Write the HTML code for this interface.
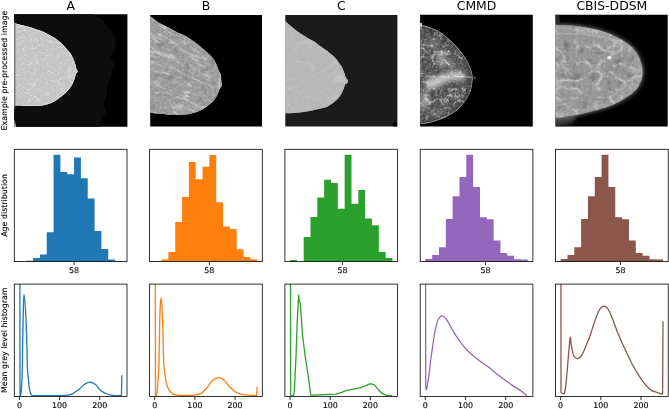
<!DOCTYPE html><html><head><meta charset="utf-8"><style>html,body{margin:0;padding:0;background:#fff;overflow:hidden}svg{display:block}text{font-family:'DejaVu Sans','Liberation Sans',sans-serif;fill:#000}.s{stroke:#000;stroke-width:0.12px}</style></head><body>
<svg width="669" height="409" viewBox="0 0 669 409">
<rect width="669" height="409" fill="#fff"/>
<defs>
<clipPath id="c00"><rect x="14.30" y="14.40" width="112.7" height="112.3"/></clipPath>
<clipPath id="c01"><rect x="14.30" y="149.30" width="112.7" height="112.3"/></clipPath>
<clipPath id="c02"><rect x="14.30" y="284.10" width="112.7" height="112.3"/></clipPath>
<clipPath id="c10"><rect x="149.60" y="14.40" width="112.7" height="112.3"/></clipPath>
<clipPath id="c11"><rect x="149.60" y="149.30" width="112.7" height="112.3"/></clipPath>
<clipPath id="c12"><rect x="149.60" y="284.10" width="112.7" height="112.3"/></clipPath>
<clipPath id="c20"><rect x="284.90" y="14.40" width="112.7" height="112.3"/></clipPath>
<clipPath id="c21"><rect x="284.90" y="149.30" width="112.7" height="112.3"/></clipPath>
<clipPath id="c22"><rect x="284.90" y="284.10" width="112.7" height="112.3"/></clipPath>
<clipPath id="c30"><rect x="420.20" y="14.40" width="112.7" height="112.3"/></clipPath>
<clipPath id="c31"><rect x="420.20" y="149.30" width="112.7" height="112.3"/></clipPath>
<clipPath id="c32"><rect x="420.20" y="284.10" width="112.7" height="112.3"/></clipPath>
<clipPath id="c40"><rect x="555.50" y="14.40" width="112.7" height="112.3"/></clipPath>
<clipPath id="c41"><rect x="555.50" y="149.30" width="112.7" height="112.3"/></clipPath>
<clipPath id="c42"><rect x="555.50" y="284.10" width="112.7" height="112.3"/></clipPath>
<filter id="tex" x="0" y="0" width="100%" height="100%"><feTurbulence type="fractalNoise" baseFrequency="0.25" numOctaves="2" seed="3" result="n"/><feColorMatrix in="n" type="matrix" values="0 0 0 0 1  0 0 0 0 1  0 0 0 0 1  0.9 0 0 0 -0.45" result="w"/><feComposite in="w" in2="SourceGraphic" operator="in" result="wi"/><feMerge><feMergeNode in="SourceGraphic"/><feMergeNode in="wi"/></feMerge></filter>
<filter id="grainA" x="0" y="0" width="100%" height="100%"><feTurbulence type="fractalNoise" baseFrequency="0.5" numOctaves="2" seed="2" result="n"/><feColorMatrix in="n" type="matrix" values="0 0 0 0 1  0 0 0 0 1  0 0 0 0 1  0.35 0 0 0 -0.175" result="w"/><feColorMatrix in="n" type="matrix" values="0 0 0 0 0  0 0 0 0 0  0 0 0 0 0  -0.35 0 0 0 0.175" result="b"/><feMerge><feMergeNode in="SourceGraphic"/><feMergeNode in="w"/><feMergeNode in="b"/></feMerge></filter>
<filter id="grainB" x="0" y="0" width="100%" height="100%"><feTurbulence type="fractalNoise" baseFrequency="0.4" numOctaves="2" seed="5" result="n"/><feColorMatrix in="n" type="matrix" values="0 0 0 0 1  0 0 0 0 1  0 0 0 0 1  0.45 0 0 0 -0.225" result="w"/><feColorMatrix in="n" type="matrix" values="0 0 0 0 0  0 0 0 0 0  0 0 0 0 0  -0.45 0 0 0 0.225" result="b"/><feMerge><feMergeNode in="SourceGraphic"/><feMergeNode in="w"/><feMergeNode in="b"/></feMerge></filter>
<filter id="grainC" x="0" y="0" width="100%" height="100%"><feTurbulence type="fractalNoise" baseFrequency="0.3" numOctaves="2" seed="7" result="n"/><feColorMatrix in="n" type="matrix" values="0 0 0 0 1  0 0 0 0 1  0 0 0 0 1  0.15 0 0 0 -0.075" result="w"/><feColorMatrix in="n" type="matrix" values="0 0 0 0 0  0 0 0 0 0  0 0 0 0 0  -0.15 0 0 0 0.075" result="b"/><feMerge><feMergeNode in="SourceGraphic"/><feMergeNode in="w"/><feMergeNode in="b"/></feMerge></filter>
<filter id="grainM" x="0" y="0" width="100%" height="100%"><feTurbulence type="fractalNoise" baseFrequency="0.45" numOctaves="2" seed="11" result="n"/><feColorMatrix in="n" type="matrix" values="0 0 0 0 1  0 0 0 0 1  0 0 0 0 1  0.5 0 0 0 -0.250" result="w"/><feColorMatrix in="n" type="matrix" values="0 0 0 0 0  0 0 0 0 0  0 0 0 0 0  -0.5 0 0 0 0.250" result="b"/><feMerge><feMergeNode in="SourceGraphic"/><feMergeNode in="w"/><feMergeNode in="b"/></feMerge></filter>
<filter id="grainD" x="0" y="0" width="100%" height="100%"><feTurbulence type="fractalNoise" baseFrequency="0.35" numOctaves="2" seed="13" result="n"/><feColorMatrix in="n" type="matrix" values="0 0 0 0 1  0 0 0 0 1  0 0 0 0 1  0.6 0 0 0 -0.300" result="w"/><feColorMatrix in="n" type="matrix" values="0 0 0 0 0  0 0 0 0 0  0 0 0 0 0  -0.6 0 0 0 0.300" result="b"/><feMerge><feMergeNode in="SourceGraphic"/><feMergeNode in="w"/><feMergeNode in="b"/></feMerge></filter>
<filter id="veinA" x="0" y="0" width="100%" height="100%"><feTurbulence type="turbulence" baseFrequency="0.09 0.12" numOctaves="2" seed="21"/><feColorMatrix type="matrix" values="0 0 0 0 1  0 0 0 0 1  0 0 0 0 1  -8 0 0 0 1.0"/><feGaussianBlur stdDeviation="0.35"/></filter>
<filter id="veinB" x="0" y="0" width="100%" height="100%"><feTurbulence type="turbulence" baseFrequency="0.05 0.07" numOctaves="4" seed="3"/><feColorMatrix type="matrix" values="0 0 0 0 1  0 0 0 0 1  0 0 0 0 1  -4.5 0 0 0 1.0"/><feGaussianBlur stdDeviation="0.35"/></filter>
<filter id="veinB2" x="0" y="0" width="100%" height="100%"><feTurbulence type="turbulence" baseFrequency="0.02 0.13" numOctaves="3" seed="41"/><feColorMatrix type="matrix" values="0 0 0 0 1  0 0 0 0 1  0 0 0 0 1  -5 0 0 0 1.0"/><feGaussianBlur stdDeviation="0.35"/></filter>
<filter id="veinC" x="0" y="0" width="100%" height="100%"><feTurbulence type="turbulence" baseFrequency="0.04 0.06" numOctaves="2" seed="9"/><feColorMatrix type="matrix" values="0 0 0 0 1  0 0 0 0 1  0 0 0 0 1  -7 0 0 0 1.0"/><feGaussianBlur stdDeviation="0.35"/></filter>
<filter id="veinM" x="0" y="0" width="100%" height="100%"><feTurbulence type="turbulence" baseFrequency="0.07 0.08" numOctaves="4" seed="17"/><feColorMatrix type="matrix" values="0 0 0 0 1  0 0 0 0 1  0 0 0 0 1  -4.5 0 0 0 1.0"/><feGaussianBlur stdDeviation="0.35"/></filter>
<filter id="veinD" x="0" y="0" width="100%" height="100%"><feTurbulence type="turbulence" baseFrequency="0.045 0.06" numOctaves="4" seed="31"/><feColorMatrix type="matrix" values="0 0 0 0 1  0 0 0 0 1  0 0 0 0 1  -4 0 0 0 1.0"/><feGaussianBlur stdDeviation="0.35"/></filter>
<filter id="blur2" x="-20%" y="-20%" width="140%" height="140%"><feGaussianBlur stdDeviation="2"/></filter>
<filter id="dk" x="0" y="0" width="100%" height="100%"><feTurbulence type="fractalNoise" baseFrequency="0.12" numOctaves="2" seed="8"/><feColorMatrix type="matrix" values="0 0 0 0 0  0 0 0 0 0  0 0 0 0 0  -2.2 0 0 0 1.0"/></filter>
<filter id="dk2" x="0" y="0" width="100%" height="100%"><feTurbulence type="fractalNoise" baseFrequency="0.2" numOctaves="2" seed="12"/><feColorMatrix type="matrix" values="0 0 0 0 0  0 0 0 0 0  0 0 0 0 0  -2.6 0 0 0 1.2"/></filter>
<filter id="soft" x="-5%" y="-5%" width="110%" height="110%"><feGaussianBlur stdDeviation="0.45"/></filter>
<filter id="edgeD" x="-10%" y="-10%" width="120%" height="120%"><feGaussianBlur stdDeviation="2.7"/></filter>
<filter id="rough" x="-5%" y="-5%" width="110%" height="110%"><feTurbulence type="fractalNoise" baseFrequency="0.15" numOctaves="2" seed="4" result="t"/><feDisplacementMap in="SourceGraphic" in2="t" scale="5" xChannelSelector="R" yChannelSelector="G"/></filter>
<filter id="blur1"><feGaussianBlur stdDeviation="0.8"/></filter>
<filter id="blur2"><feGaussianBlur stdDeviation="1.5"/></filter>
</defs>
<text x="70.65" y="10.1" font-size="12.4" text-anchor="middle">A</text>
<text x="205.95" y="10.1" font-size="12.4" text-anchor="middle">B</text>
<text x="341.25" y="10.1" font-size="12.4" text-anchor="middle">C</text>
<text x="476.55" y="10.1" font-size="12.4" text-anchor="middle">CMMD</text>
<text x="611.85" y="10.1" font-size="12.4" text-anchor="middle">CBIS-DDSM</text>
<text transform="translate(6.8,70.55) rotate(-90)" x="0" y="0" font-size="7.9" text-anchor="middle" class="s">Example pre-processed image</text>
<text transform="translate(6.8,205.45) rotate(-90)" x="0" y="0" font-size="7.9" text-anchor="middle" class="s">Age distribution</text>
<text transform="translate(6.8,340.25) rotate(-90)" x="0" y="0" font-size="7.9" text-anchor="middle" class="s">Mean grey level histogram</text>
<clipPath id="ic0"><rect x="14.2" y="14.3" width="113.20" height="112.50"/></clipPath>
<g clip-path="url(#ic0)"><g transform="translate(14.30,14.40)">
<rect x="-1" y="-1" width="115" height="115" fill="#000"/>
<path d="M79.60,-3.00 C79.60,-2.52 79.27,-0.87 79.60,-0.10 C79.93,0.67 80.45,0.83 81.60,1.60 C82.75,2.37 84.88,3.20 86.50,4.50 C88.12,5.80 89.83,7.77 91.30,9.40 C92.77,11.03 94.07,12.67 95.30,14.30 C96.53,15.93 97.82,17.58 98.70,19.20 C99.58,20.82 100.12,22.70 100.60,24.00 C101.08,25.30 101.60,26.02 101.60,27.00 C101.60,27.98 100.65,28.77 100.60,29.90 C100.55,31.03 101.47,32.45 101.30,33.80 C101.13,35.15 100.37,36.55 99.60,38.00 C98.83,39.45 96.85,40.93 96.70,42.50 C96.55,44.07 98.05,45.93 98.70,47.40 C99.35,48.87 100.85,50.17 100.60,51.30 C100.35,52.43 97.68,53.22 97.20,54.20 C96.72,55.18 97.87,56.05 97.70,57.20 C97.53,58.35 96.60,59.80 96.20,61.10 C95.80,62.40 95.70,63.70 95.30,65.00 C94.90,66.30 94.22,67.60 93.80,68.90 C93.38,70.20 93.03,71.68 92.80,72.80 C92.57,73.92 92.38,74.37 92.40,75.60 C92.42,76.83 93.20,78.65 92.90,80.20 C92.60,81.75 91.15,83.35 90.60,84.90 C90.05,86.45 89.60,87.95 89.60,89.50 C89.60,91.05 90.22,92.73 90.60,94.20 C90.98,95.67 92.22,97.07 91.90,98.30 C91.58,99.53 89.47,100.43 88.70,101.60 C87.93,102.77 87.77,104.07 87.30,105.30 C86.83,106.53 86.28,107.82 85.90,109.00 C85.52,110.18 85.23,111.23 85.00,112.40 C84.77,113.57 84.58,115.40 84.50,116.00 L-3,116 L-3,-3 Z" fill="#111" filter="url(#soft)"/>
<clipPath id="bcA"><path d="M-3.00,8.80 C-2.38,8.80 -0.43,8.62 0.70,8.80 C1.83,8.98 2.27,9.47 3.80,9.90 C5.33,10.33 7.87,10.90 9.90,11.40 C11.93,11.90 13.95,12.28 16.00,12.90 C18.05,13.52 20.15,14.38 22.20,15.10 C24.25,15.82 26.23,16.33 28.30,17.20 C30.37,18.07 32.52,19.20 34.60,20.30 C36.68,21.40 38.90,22.53 40.80,23.80 C42.70,25.07 44.28,26.35 46.00,27.90 C47.72,29.45 49.40,31.22 51.10,33.10 C52.80,34.98 54.83,37.15 56.20,39.20 C57.57,41.25 58.43,43.35 59.30,45.40 C60.17,47.45 60.92,49.93 61.40,51.50 C61.88,53.07 61.85,53.85 62.20,54.80 C62.55,55.75 63.60,56.40 63.50,57.20 C63.40,58.00 62.12,58.48 61.60,59.60 C61.08,60.72 60.93,62.33 60.40,63.90 C59.87,65.47 59.25,67.30 58.40,69.00 C57.55,70.70 56.58,72.40 55.30,74.10 C54.02,75.80 52.58,77.48 50.70,79.20 C48.82,80.92 46.03,82.95 44.00,84.40 C41.97,85.85 40.42,86.95 38.50,87.90 C36.58,88.85 34.58,89.53 32.50,90.10 C30.42,90.67 28.42,91.03 26.00,91.30 C23.58,91.57 20.68,91.65 18.00,91.70 C15.32,91.75 12.78,91.68 9.90,91.60 C7.02,91.52 2.85,91.27 0.70,91.20 C-1.45,91.13 -2.38,91.20 -3.00,91.20 L-3,91.20 L-3,8.80 Z"/></clipPath>
<path d="M-3.00,8.80 C-2.38,8.80 -0.43,8.62 0.70,8.80 C1.83,8.98 2.27,9.47 3.80,9.90 C5.33,10.33 7.87,10.90 9.90,11.40 C11.93,11.90 13.95,12.28 16.00,12.90 C18.05,13.52 20.15,14.38 22.20,15.10 C24.25,15.82 26.23,16.33 28.30,17.20 C30.37,18.07 32.52,19.20 34.60,20.30 C36.68,21.40 38.90,22.53 40.80,23.80 C42.70,25.07 44.28,26.35 46.00,27.90 C47.72,29.45 49.40,31.22 51.10,33.10 C52.80,34.98 54.83,37.15 56.20,39.20 C57.57,41.25 58.43,43.35 59.30,45.40 C60.17,47.45 60.92,49.93 61.40,51.50 C61.88,53.07 61.85,53.85 62.20,54.80 C62.55,55.75 63.60,56.40 63.50,57.20 C63.40,58.00 62.12,58.48 61.60,59.60 C61.08,60.72 60.93,62.33 60.40,63.90 C59.87,65.47 59.25,67.30 58.40,69.00 C57.55,70.70 56.58,72.40 55.30,74.10 C54.02,75.80 52.58,77.48 50.70,79.20 C48.82,80.92 46.03,82.95 44.00,84.40 C41.97,85.85 40.42,86.95 38.50,87.90 C36.58,88.85 34.58,89.53 32.50,90.10 C30.42,90.67 28.42,91.03 26.00,91.30 C23.58,91.57 20.68,91.65 18.00,91.70 C15.32,91.75 12.78,91.68 9.90,91.60 C7.02,91.52 2.85,91.27 0.70,91.20 C-1.45,91.13 -2.38,91.20 -3.00,91.20 L-3,91.20 L-3,8.80 Z" fill="#c6c6c6"/>
<g clip-path="url(#bcA)"><rect x="0" y="0" width="113" height="113" fill="#c6c6c6" filter="url(#grainA)"/><path d="M-3.00,8.80 C-2.38,8.80 -0.43,8.62 0.70,8.80 C1.83,8.98 2.27,9.47 3.80,9.90 C5.33,10.33 7.87,10.90 9.90,11.40 C11.93,11.90 13.95,12.28 16.00,12.90 C18.05,13.52 20.15,14.38 22.20,15.10 C24.25,15.82 26.23,16.33 28.30,17.20 C30.37,18.07 32.52,19.20 34.60,20.30 C36.68,21.40 38.90,22.53 40.80,23.80 C42.70,25.07 44.28,26.35 46.00,27.90 C47.72,29.45 49.40,31.22 51.10,33.10 C52.80,34.98 54.83,37.15 56.20,39.20 C57.57,41.25 58.43,43.35 59.30,45.40 C60.17,47.45 60.92,49.93 61.40,51.50 C61.88,53.07 61.85,53.85 62.20,54.80 C62.55,55.75 63.60,56.40 63.50,57.20 C63.40,58.00 62.12,58.48 61.60,59.60 C61.08,60.72 60.93,62.33 60.40,63.90 C59.87,65.47 59.25,67.30 58.40,69.00 C57.55,70.70 56.58,72.40 55.30,74.10 C54.02,75.80 52.58,77.48 50.70,79.20 C48.82,80.92 46.03,82.95 44.00,84.40 C41.97,85.85 40.42,86.95 38.50,87.90 C36.58,88.85 34.58,89.53 32.50,90.10 C30.42,90.67 28.42,91.03 26.00,91.30 C23.58,91.57 20.68,91.65 18.00,91.70 C15.32,91.75 12.78,91.68 9.90,91.60 C7.02,91.52 2.85,91.27 0.70,91.20 C-1.45,91.13 -2.38,91.20 -3.00,91.20 L-3,91.20 L-3,8.80 Z" fill="none" stroke="#e2e2e2" stroke-width="1.6" stroke-opacity="0.7"/><ellipse cx="57" cy="58" rx="4" ry="6" fill="#fff" fill-opacity="0.12" filter="url(#blur2)"/><rect x="0" y="0" width="113" height="113" filter="url(#veinA)" opacity="0.35"/><ellipse cx="57.6" cy="90.8" rx="0.5" ry="0.4" fill="#fff" fill-opacity="0.45"/><ellipse cx="45.5" cy="68.6" rx="0.7" ry="0.6" fill="#fff" fill-opacity="0.38"/><ellipse cx="37.0" cy="27.7" rx="0.8" ry="0.5" fill="#fff" fill-opacity="0.42"/><ellipse cx="59.7" cy="91.0" rx="0.9" ry="0.6" fill="#fff" fill-opacity="0.28"/><ellipse cx="7.0" cy="17.2" rx="0.8" ry="0.5" fill="#fff" fill-opacity="0.31"/><ellipse cx="54.0" cy="57.1" rx="0.9" ry="0.5" fill="#fff" fill-opacity="0.21"/><ellipse cx="22.9" cy="25.9" rx="0.9" ry="0.8" fill="#fff" fill-opacity="0.40"/><ellipse cx="15.0" cy="86.5" rx="1.1" ry="0.7" fill="#fff" fill-opacity="0.47"/><ellipse cx="47.0" cy="78.2" rx="0.7" ry="0.8" fill="#fff" fill-opacity="0.49"/><ellipse cx="13.9" cy="75.3" rx="1.0" ry="0.6" fill="#fff" fill-opacity="0.36"/><ellipse cx="32.0" cy="89.0" rx="0.9" ry="0.8" fill="#fff" fill-opacity="0.31"/><ellipse cx="53.6" cy="87.0" rx="0.8" ry="0.6" fill="#fff" fill-opacity="0.48"/><ellipse cx="44.8" cy="53.9" rx="0.7" ry="0.5" fill="#fff" fill-opacity="0.41"/><ellipse cx="14.1" cy="87.6" rx="0.7" ry="0.8" fill="#fff" fill-opacity="0.29"/><ellipse cx="57.7" cy="71.5" rx="0.9" ry="0.6" fill="#fff" fill-opacity="0.40"/><ellipse cx="37.3" cy="39.9" rx="0.6" ry="0.6" fill="#fff" fill-opacity="0.48"/><ellipse cx="39.3" cy="21.0" rx="1.1" ry="0.7" fill="#fff" fill-opacity="0.47"/><ellipse cx="15.5" cy="74.6" rx="0.5" ry="0.7" fill="#fff" fill-opacity="0.28"/><ellipse cx="17.5" cy="85.0" rx="0.6" ry="0.6" fill="#fff" fill-opacity="0.46"/><ellipse cx="18.5" cy="31.8" rx="1.1" ry="0.6" fill="#fff" fill-opacity="0.42"/><ellipse cx="6.8" cy="44.0" rx="0.6" ry="0.7" fill="#fff" fill-opacity="0.22"/><ellipse cx="57.5" cy="17.0" rx="1.0" ry="0.4" fill="#fff" fill-opacity="0.28"/><ellipse cx="49.7" cy="27.6" rx="0.6" ry="0.7" fill="#fff" fill-opacity="0.32"/><ellipse cx="7.4" cy="94.2" rx="0.6" ry="0.4" fill="#fff" fill-opacity="0.30"/><ellipse cx="38.8" cy="74.4" rx="0.6" ry="0.5" fill="#fff" fill-opacity="0.21"/></g>
<path d="M0,104 L1.8,112.5 L0,112.5 Z" fill="#ddd"/><rect x="-0.1" y="8" width="1.1" height="86" fill="#555"/>
</g></g>
<clipPath id="ic1"><rect x="150.2" y="14.9" width="111.80" height="111.70"/></clipPath>
<g clip-path="url(#ic1)"><g transform="translate(149.60,14.40)">
<rect x="-1" y="-1" width="115" height="115" fill="#000"/>
<clipPath id="bcB"><path d="M-3.00,1.80 C-2.43,1.80 -0.78,1.37 0.40,1.80 C1.58,2.23 2.88,3.48 4.10,4.40 C5.32,5.32 5.87,6.15 7.70,7.30 C9.53,8.45 12.65,10.02 15.10,11.30 C17.55,12.58 19.97,13.73 22.40,15.00 C24.83,16.27 27.65,17.92 29.70,18.90 C31.75,19.88 33.15,20.15 34.70,20.90 C36.25,21.65 37.58,22.48 39.00,23.40 C40.42,24.32 41.78,25.40 43.20,26.40 C44.62,27.40 46.07,28.30 47.50,29.40 C48.93,30.50 50.37,31.78 51.80,33.00 C53.23,34.22 54.68,35.45 56.10,36.70 C57.52,37.95 59.02,39.22 60.30,40.50 C61.58,41.78 62.77,42.95 63.80,44.40 C64.83,45.85 65.68,47.45 66.50,49.20 C67.32,50.95 67.90,53.00 68.70,54.90 C69.50,56.80 70.82,58.83 71.30,60.60 C71.78,62.37 71.47,64.10 71.60,65.50 C71.73,66.90 71.97,68.05 72.10,69.00 C72.23,69.95 72.70,70.32 72.40,71.20 C72.10,72.08 71.05,72.80 70.30,74.30 C69.55,75.80 68.78,78.42 67.90,80.20 C67.02,81.98 66.30,83.38 65.00,85.00 C63.70,86.62 62.07,88.27 60.10,89.90 C58.13,91.53 55.72,93.38 53.20,94.80 C50.68,96.22 47.65,97.53 45.00,98.40 C42.35,99.27 39.88,99.65 37.30,100.00 C34.72,100.35 32.10,100.43 29.50,100.50 C26.90,100.57 24.30,100.53 21.70,100.40 C19.10,100.27 16.48,99.93 13.90,99.70 C11.32,99.47 8.45,99.28 6.20,99.00 C3.95,98.72 1.93,98.17 0.40,98.00 C-1.13,97.83 -2.43,98.00 -3.00,98.00 L-3,98.00 L-3,1.80 Z"/></clipPath>
<path d="M-3.00,1.80 C-2.43,1.80 -0.78,1.37 0.40,1.80 C1.58,2.23 2.88,3.48 4.10,4.40 C5.32,5.32 5.87,6.15 7.70,7.30 C9.53,8.45 12.65,10.02 15.10,11.30 C17.55,12.58 19.97,13.73 22.40,15.00 C24.83,16.27 27.65,17.92 29.70,18.90 C31.75,19.88 33.15,20.15 34.70,20.90 C36.25,21.65 37.58,22.48 39.00,23.40 C40.42,24.32 41.78,25.40 43.20,26.40 C44.62,27.40 46.07,28.30 47.50,29.40 C48.93,30.50 50.37,31.78 51.80,33.00 C53.23,34.22 54.68,35.45 56.10,36.70 C57.52,37.95 59.02,39.22 60.30,40.50 C61.58,41.78 62.77,42.95 63.80,44.40 C64.83,45.85 65.68,47.45 66.50,49.20 C67.32,50.95 67.90,53.00 68.70,54.90 C69.50,56.80 70.82,58.83 71.30,60.60 C71.78,62.37 71.47,64.10 71.60,65.50 C71.73,66.90 71.97,68.05 72.10,69.00 C72.23,69.95 72.70,70.32 72.40,71.20 C72.10,72.08 71.05,72.80 70.30,74.30 C69.55,75.80 68.78,78.42 67.90,80.20 C67.02,81.98 66.30,83.38 65.00,85.00 C63.70,86.62 62.07,88.27 60.10,89.90 C58.13,91.53 55.72,93.38 53.20,94.80 C50.68,96.22 47.65,97.53 45.00,98.40 C42.35,99.27 39.88,99.65 37.30,100.00 C34.72,100.35 32.10,100.43 29.50,100.50 C26.90,100.57 24.30,100.53 21.70,100.40 C19.10,100.27 16.48,99.93 13.90,99.70 C11.32,99.47 8.45,99.28 6.20,99.00 C3.95,98.72 1.93,98.17 0.40,98.00 C-1.13,97.83 -2.43,98.00 -3.00,98.00 L-3,98.00 L-3,1.80 Z" fill="#9c9c9c"/>
<g clip-path="url(#bcB)"><rect x="0" y="0" width="113" height="113" fill="#9c9c9c" filter="url(#grainB)"/><rect x="0" y="0" width="113" height="113" filter="url(#dk)" opacity="0.2"/><rect x="0" y="0" width="113" height="113" filter="url(#veinB)" opacity="0.25"/><g transform="rotate(28 56 56)"><rect x="-40" y="-40" width="190" height="190" filter="url(#veinB2)" opacity="0.6"/></g></g>
</g></g>
<clipPath id="ic2"><rect x="285.3" y="15.0" width="112.10" height="111.60"/></clipPath>
<g clip-path="url(#ic2)"><g transform="translate(284.90,14.40)">
<rect x="-1" y="-1" width="115" height="115" fill="#1b1b1b"/>
<clipPath id="bcC"><path d="M-3.00,6.90 C-2.48,6.90 -1.27,6.18 0.10,6.90 C1.47,7.62 3.33,9.67 5.20,11.20 C7.07,12.73 9.27,14.57 11.30,16.10 C13.33,17.63 15.37,19.08 17.40,20.40 C19.43,21.72 21.38,22.78 23.50,24.00 C25.62,25.22 28.28,26.50 30.10,27.70 C31.92,28.90 32.97,30.12 34.40,31.20 C35.83,32.28 37.28,33.22 38.70,34.20 C40.12,35.18 41.48,36.03 42.90,37.10 C44.32,38.17 45.77,39.32 47.20,40.60 C48.63,41.88 50.22,43.30 51.50,44.80 C52.78,46.30 53.90,48.10 54.90,49.60 C55.90,51.10 56.72,52.23 57.50,53.80 C58.28,55.37 59.05,57.53 59.60,59.00 C60.15,60.47 60.35,61.57 60.80,62.60 C61.25,63.63 61.93,64.47 62.30,65.20 C62.67,65.93 63.02,66.40 63.00,67.00 C62.98,67.60 62.67,68.30 62.20,68.80 C61.73,69.30 60.73,69.18 60.20,70.00 C59.67,70.82 59.40,72.58 59.00,73.70 C58.60,74.82 58.28,75.68 57.80,76.70 C57.32,77.72 56.70,78.78 56.10,79.80 C55.50,80.82 54.98,81.78 54.20,82.80 C53.42,83.82 52.48,84.88 51.40,85.90 C50.32,86.92 48.97,87.98 47.70,88.90 C46.43,89.82 45.07,90.68 43.80,91.40 C42.53,92.12 42.67,92.47 40.10,93.20 C37.53,93.93 31.97,95.08 28.40,95.80 C24.83,96.52 21.95,97.05 18.70,97.50 C15.45,97.95 12.00,98.27 8.90,98.50 C5.80,98.73 2.08,98.83 0.10,98.90 C-1.88,98.97 -2.48,98.90 -3.00,98.90 L-3,98.90 L-3,6.90 Z"/></clipPath>
<path d="M-3.00,6.90 C-2.48,6.90 -1.27,6.18 0.10,6.90 C1.47,7.62 3.33,9.67 5.20,11.20 C7.07,12.73 9.27,14.57 11.30,16.10 C13.33,17.63 15.37,19.08 17.40,20.40 C19.43,21.72 21.38,22.78 23.50,24.00 C25.62,25.22 28.28,26.50 30.10,27.70 C31.92,28.90 32.97,30.12 34.40,31.20 C35.83,32.28 37.28,33.22 38.70,34.20 C40.12,35.18 41.48,36.03 42.90,37.10 C44.32,38.17 45.77,39.32 47.20,40.60 C48.63,41.88 50.22,43.30 51.50,44.80 C52.78,46.30 53.90,48.10 54.90,49.60 C55.90,51.10 56.72,52.23 57.50,53.80 C58.28,55.37 59.05,57.53 59.60,59.00 C60.15,60.47 60.35,61.57 60.80,62.60 C61.25,63.63 61.93,64.47 62.30,65.20 C62.67,65.93 63.02,66.40 63.00,67.00 C62.98,67.60 62.67,68.30 62.20,68.80 C61.73,69.30 60.73,69.18 60.20,70.00 C59.67,70.82 59.40,72.58 59.00,73.70 C58.60,74.82 58.28,75.68 57.80,76.70 C57.32,77.72 56.70,78.78 56.10,79.80 C55.50,80.82 54.98,81.78 54.20,82.80 C53.42,83.82 52.48,84.88 51.40,85.90 C50.32,86.92 48.97,87.98 47.70,88.90 C46.43,89.82 45.07,90.68 43.80,91.40 C42.53,92.12 42.67,92.47 40.10,93.20 C37.53,93.93 31.97,95.08 28.40,95.80 C24.83,96.52 21.95,97.05 18.70,97.50 C15.45,97.95 12.00,98.27 8.90,98.50 C5.80,98.73 2.08,98.83 0.10,98.90 C-1.88,98.97 -2.48,98.90 -3.00,98.90 L-3,98.90 L-3,6.90 Z" fill="#b8b8b8"/>
<g clip-path="url(#bcC)"><rect x="0" y="0" width="113" height="113" fill="#b8b8b8" filter="url(#grainC)"/><rect x="0" y="0" width="113" height="113" filter="url(#veinC)" opacity="0.15"/><ellipse cx="55" cy="64" rx="5" ry="4" fill="#d0d0d0" fill-opacity="0.5" filter="url(#soft)"/></g>
<rect x="108.2" y="108.3" width="4" height="4" fill="#000"/>
</g></g>
<clipPath id="ic3"><rect x="420.1" y="14.7" width="112.70" height="111.90"/></clipPath>
<g clip-path="url(#ic3)"><g transform="translate(420.20,14.40)">
<rect x="-1" y="-1" width="115" height="115" fill="#000"/>
<clipPath id="bcM"><path d="M-3.00,10.10 C-2.50,10.12 -2.33,9.62 0.00,10.20 C2.33,10.78 7.32,12.12 11.00,13.60 C14.68,15.08 18.38,16.55 22.10,19.10 C25.82,21.65 30.03,25.63 33.30,28.90 C36.57,32.17 39.37,35.67 41.70,38.70 C44.03,41.73 45.77,44.30 47.30,47.10 C48.83,49.90 50.07,52.95 50.90,55.50 C51.73,58.05 52.20,59.62 52.30,62.40 C52.40,65.18 52.10,69.17 51.50,72.20 C50.90,75.23 50.10,77.80 48.70,80.60 C47.30,83.40 45.43,86.20 43.10,89.00 C40.77,91.80 38.20,94.85 34.70,97.40 C31.20,99.95 26.52,102.43 22.10,104.30 C17.68,106.17 11.88,107.75 8.20,108.60 C4.52,109.45 1.87,109.27 0.00,109.40 C-1.87,109.53 -2.50,109.40 -3.00,109.40 L-3,109.40 L-3,10.10 Z"/></clipPath>
<path d="M-3.00,10.10 C-2.50,10.12 -2.33,9.62 0.00,10.20 C2.33,10.78 7.32,12.12 11.00,13.60 C14.68,15.08 18.38,16.55 22.10,19.10 C25.82,21.65 30.03,25.63 33.30,28.90 C36.57,32.17 39.37,35.67 41.70,38.70 C44.03,41.73 45.77,44.30 47.30,47.10 C48.83,49.90 50.07,52.95 50.90,55.50 C51.73,58.05 52.20,59.62 52.30,62.40 C52.40,65.18 52.10,69.17 51.50,72.20 C50.90,75.23 50.10,77.80 48.70,80.60 C47.30,83.40 45.43,86.20 43.10,89.00 C40.77,91.80 38.20,94.85 34.70,97.40 C31.20,99.95 26.52,102.43 22.10,104.30 C17.68,106.17 11.88,107.75 8.20,108.60 C4.52,109.45 1.87,109.27 0.00,109.40 C-1.87,109.53 -2.50,109.40 -3.00,109.40 L-3,109.40 L-3,10.10 Z" fill="#565656"/>
<g clip-path="url(#bcM)"><rect x="0" y="0" width="113" height="113" fill="#565656" filter="url(#grainM)"/><rect x="0" y="0" width="113" height="113" filter="url(#dk2)" opacity="0.35"/>
<g filter="url(#blur2)">
<path d="M6,70 C14,67 22,64 30,62 C36,61 40,61 44,62" stroke="#fff" stroke-width="9" stroke-opacity="0.6" fill="none"/>
<path d="M4,76 C10,74 16,71 22,68" stroke="#fff" stroke-width="5" stroke-opacity="0.3" fill="none"/>
<ellipse cx="21" cy="44" rx="5" ry="9" fill="#fff" fill-opacity="0.35"/>
<ellipse cx="30" cy="50" rx="4" ry="5" fill="#fff" fill-opacity="0.25"/>
<ellipse cx="4" cy="86" rx="5" ry="9" fill="#fff" fill-opacity="0.4"/>
<ellipse cx="12" cy="30" rx="6" ry="4" fill="#fff" fill-opacity="0.2"/>
<ellipse cx="18" cy="98" rx="8" ry="4" fill="#fff" fill-opacity="0.15"/>
</g>
<rect x="0" y="0" width="113" height="113" filter="url(#veinM)" opacity="0.7"/><path d="M34,62 C42,62 48,63 54,63" stroke="#fff" stroke-width="1.2" stroke-opacity="0.5" fill="none"/>
<path d="M-3.00,10.10 C-2.50,10.12 -2.33,9.62 0.00,10.20 C2.33,10.78 7.32,12.12 11.00,13.60 C14.68,15.08 18.38,16.55 22.10,19.10 C25.82,21.65 30.03,25.63 33.30,28.90 C36.57,32.17 39.37,35.67 41.70,38.70 C44.03,41.73 45.77,44.30 47.30,47.10 C48.83,49.90 50.07,52.95 50.90,55.50 C51.73,58.05 52.20,59.62 52.30,62.40 C52.40,65.18 52.10,69.17 51.50,72.20 C50.90,75.23 50.10,77.80 48.70,80.60 C47.30,83.40 45.43,86.20 43.10,89.00 C40.77,91.80 38.20,94.85 34.70,97.40 C31.20,99.95 26.52,102.43 22.10,104.30 C17.68,106.17 11.88,107.75 8.20,108.60 C4.52,109.45 1.87,109.27 0.00,109.40 C-1.87,109.53 -2.50,109.40 -3.00,109.40 L-3,109.40 L-3,10.10 Z" fill="none" stroke="#000" stroke-width="9" stroke-opacity="0.22" filter="url(#blur2)"/>
<path d="M-3.00,10.10 C-2.50,10.12 -2.33,9.62 0.00,10.20 C2.33,10.78 7.32,12.12 11.00,13.60 C14.68,15.08 18.38,16.55 22.10,19.10 C25.82,21.65 30.03,25.63 33.30,28.90 C36.57,32.17 39.37,35.67 41.70,38.70 C44.03,41.73 45.77,44.30 47.30,47.10 C48.83,49.90 50.07,52.95 50.90,55.50 C51.73,58.05 52.20,59.62 52.30,62.40 C52.40,65.18 52.10,69.17 51.50,72.20 C50.90,75.23 50.10,77.80 48.70,80.60 C47.30,83.40 45.43,86.20 43.10,89.00 C40.77,91.80 38.20,94.85 34.70,97.40 C31.20,99.95 26.52,102.43 22.10,104.30 C17.68,106.17 11.88,107.75 8.20,108.60 C4.52,109.45 1.87,109.27 0.00,109.40 C-1.87,109.53 -2.50,109.40 -3.00,109.40 L-3,109.40 L-3,10.10 Z" fill="none" stroke="#ccc" stroke-width="1.3" stroke-opacity="0.55"/></g>
<circle cx="54.3" cy="63.3" r="1.2" fill="#555"/>
<rect x="0" y="8.5" width="1.8" height="4" fill="#ddd"/><rect x="0.6" y="12" width="0.8" height="97" fill="#999" fill-opacity="0.6"/>
</g></g>
<clipPath id="ic4"><rect x="555.5" y="14.7" width="112.20" height="111.90"/></clipPath>
<g clip-path="url(#ic4)"><g transform="translate(555.50,14.40)">
<rect x="-1" y="-1" width="115" height="115" fill="#000"/>
<clipPath id="bcD"><path d="M-3.00,10.50 C-2.50,10.50 -3.17,10.38 0.00,10.50 C3.17,10.62 10.50,10.68 16.00,11.20 C21.50,11.72 27.33,12.50 33.00,13.60 C38.67,14.70 44.75,15.98 50.00,17.80 C55.25,19.62 60.42,22.30 64.50,24.50 C68.58,26.70 71.67,28.58 74.50,31.00 C77.33,33.42 79.65,36.08 81.50,39.00 C83.35,41.92 84.68,45.50 85.60,48.50 C86.52,51.50 86.97,54.15 87.00,57.00 C87.03,59.85 86.80,62.63 85.80,65.60 C84.80,68.57 83.55,71.87 81.00,74.80 C78.45,77.73 74.33,80.65 70.50,83.20 C66.67,85.75 62.87,88.02 58.00,90.10 C53.13,92.18 46.87,94.07 41.30,95.70 C35.73,97.33 30.17,98.77 24.60,99.90 C19.03,101.03 12.00,101.90 7.90,102.50 C3.80,103.10 1.82,103.33 0.00,103.50 C-1.82,103.67 -2.50,103.50 -3.00,103.50 L-3,103.50 L-3,10.50 Z"/></clipPath>
<ellipse cx="6" cy="104" rx="14" ry="7" fill="#3c3c3c" filter="url(#blur2)"/><rect x="0" y="100" width="4" height="14" fill="#3a3a3a" filter="url(#blur2)"/>
<g filter="url(#edgeD)"><path d="M-3.00,10.50 C-2.50,10.50 -3.17,10.38 0.00,10.50 C3.17,10.62 10.50,10.68 16.00,11.20 C21.50,11.72 27.33,12.50 33.00,13.60 C38.67,14.70 44.75,15.98 50.00,17.80 C55.25,19.62 60.42,22.30 64.50,24.50 C68.58,26.70 71.67,28.58 74.50,31.00 C77.33,33.42 79.65,36.08 81.50,39.00 C83.35,41.92 84.68,45.50 85.60,48.50 C86.52,51.50 86.97,54.15 87.00,57.00 C87.03,59.85 86.80,62.63 85.80,65.60 C84.80,68.57 83.55,71.87 81.00,74.80 C78.45,77.73 74.33,80.65 70.50,83.20 C66.67,85.75 62.87,88.02 58.00,90.10 C53.13,92.18 46.87,94.07 41.30,95.70 C35.73,97.33 30.17,98.77 24.60,99.90 C19.03,101.03 12.00,101.90 7.90,102.50 C3.80,103.10 1.82,103.33 0.00,103.50 C-1.82,103.67 -2.50,103.50 -3.00,103.50 L-3,103.50 L-3,10.50 Z" fill="#979797"/></g>
<g clip-path="url(#bcD)"><rect x="0" y="0" width="113" height="113" fill="#979797" filter="url(#grainD)" opacity="0.6"/><rect x="0" y="0" width="113" height="113" filter="url(#dk)" opacity="0.3"/><rect x="0" y="0" width="113" height="113" filter="url(#veinD)" opacity="0.5"/>
<path d="M0,19.5 C20,18.5 40,19.5 62,27" stroke="#ddd" stroke-width="2" stroke-opacity="0.22" fill="none" filter="url(#soft)"/>
<ellipse cx="53.9" cy="43.3" rx="2.2" ry="1.6" fill="#fff" fill-opacity="0.8" filter="url(#soft)"/><path d="M-3.00,10.50 C-2.50,10.50 -3.17,10.38 0.00,10.50 C3.17,10.62 10.50,10.68 16.00,11.20 C21.50,11.72 27.33,12.50 33.00,13.60 C38.67,14.70 44.75,15.98 50.00,17.80 C55.25,19.62 60.42,22.30 64.50,24.50 C68.58,26.70 71.67,28.58 74.50,31.00 C77.33,33.42 79.65,36.08 81.50,39.00 C83.35,41.92 84.68,45.50 85.60,48.50 C86.52,51.50 86.97,54.15 87.00,57.00 C87.03,59.85 86.80,62.63 85.80,65.60 C84.80,68.57 83.55,71.87 81.00,74.80 C78.45,77.73 74.33,80.65 70.50,83.20 C66.67,85.75 62.87,88.02 58.00,90.10 C53.13,92.18 46.87,94.07 41.30,95.70 C35.73,97.33 30.17,98.77 24.60,99.90 C19.03,101.03 12.00,101.90 7.90,102.50 C3.80,103.10 1.82,103.33 0.00,103.50 C-1.82,103.67 -2.50,103.50 -3.00,103.50 L-3,103.50 L-3,10.50 Z" fill="none" stroke="#ddd" stroke-width="8" stroke-opacity="0.35" filter="url(#blur2)"/></g>
<defs><linearGradient id="gD" x1="0" y1="0" x2="0" y2="1"><stop offset="0" stop-color="#666"/><stop offset="1" stop-color="#2a2a2a"/></linearGradient></defs><rect x="-1" y="-1" width="5" height="10" fill="#2a2a2a" filter="url(#soft)"/>
</g></g>
<path d="M19.42,261.60 L19.42,261.60 L26.25,261.60 L26.25,260.70 L33.08,260.70 L33.08,258.00 L39.91,258.00 L39.91,254.40 L46.74,254.40 L46.74,232.30 L53.57,232.30 L53.57,154.80 L60.40,154.80 L60.40,172.00 L67.23,172.00 L67.23,174.20 L74.07,174.20 L74.07,157.50 L80.90,157.50 L80.90,178.30 L87.73,178.30 L87.73,198.60 L94.56,198.60 L94.56,231.10 L101.39,231.10 L101.39,249.10 L108.22,249.10 L108.22,259.50 L115.05,259.50 L115.05,260.90 L121.88,260.90 L121.88,261.60 Z" fill="#1f77b4"/>
<line x1="74.10" y1="261.60" x2="74.10" y2="265.20" stroke="#000" stroke-width="0.8"/>
<text x="74.10" y="272.90" font-size="7.9" text-anchor="middle" class="s">58</text>
<path d="M154.72,261.60 L154.72,260.90 L161.55,260.90 L161.55,259.50 L168.38,259.50 L168.38,251.90 L175.21,251.90 L175.21,222.00 L182.04,222.00 L182.04,196.90 L188.87,196.90 L188.87,162.00 L195.70,162.00 L195.70,179.20 L202.53,179.20 L202.53,166.70 L209.37,166.70 L209.37,155.00 L216.20,155.00 L216.20,202.20 L223.03,202.20 L223.03,226.50 L229.86,226.50 L229.86,229.00 L236.69,229.00 L236.69,249.30 L243.52,249.30 L243.52,257.00 L250.35,257.00 L250.35,259.20 L257.18,259.20 L257.18,261.60 Z" fill="#ff7f0e"/>
<line x1="209.30" y1="261.60" x2="209.30" y2="265.20" stroke="#000" stroke-width="0.8"/>
<text x="209.30" y="272.90" font-size="7.9" text-anchor="middle" class="s">58</text>
<path d="M290.02,261.60 L290.02,260.00 L296.85,260.00 L296.85,261.60 L303.68,261.60 L303.68,237.00 L310.51,237.00 L310.51,217.10 L317.34,217.10 L317.34,197.40 L324.17,197.40 L324.17,179.70 L331.00,179.70 L331.00,182.90 L337.83,182.90 L337.83,208.70 L344.67,208.70 L344.67,154.80 L351.50,154.80 L351.50,203.70 L358.33,203.70 L358.33,190.10 L365.16,190.10 L365.16,218.60 L371.99,218.60 L371.99,225.30 L378.82,225.30 L378.82,251.90 L385.65,251.90 L385.65,258.00 L392.48,258.00 L392.48,261.60 Z" fill="#2ca02c"/>
<line x1="342.40" y1="261.60" x2="342.40" y2="265.20" stroke="#000" stroke-width="0.8"/>
<text x="342.40" y="272.90" font-size="7.9" text-anchor="middle" class="s">58</text>
<path d="M425.32,261.60 L425.32,258.90 L432.15,258.90 L432.15,255.10 L438.98,255.10 L438.98,247.30 L445.81,247.30 L445.81,219.00 L452.64,219.00 L452.64,196.20 L459.47,196.20 L459.47,177.10 L466.30,177.10 L466.30,154.80 L473.13,154.80 L473.13,187.00 L479.97,187.00 L479.97,217.30 L486.80,217.30 L486.80,219.30 L493.63,219.30 L493.63,240.60 L500.46,240.60 L500.46,252.90 L507.29,252.90 L507.29,255.80 L514.12,255.80 L514.12,259.20 L520.95,259.20 L520.95,259.50 L527.78,259.50 L527.78,261.60 Z" fill="#9467bd"/>
<line x1="485.50" y1="261.60" x2="485.50" y2="265.20" stroke="#000" stroke-width="0.8"/>
<text x="485.50" y="272.90" font-size="7.9" text-anchor="middle" class="s">58</text>
<path d="M560.62,261.60 L560.62,258.90 L567.45,258.90 L567.45,255.10 L574.28,255.10 L574.28,247.30 L581.11,247.30 L581.11,219.00 L587.94,219.00 L587.94,196.20 L594.77,196.20 L594.77,177.10 L601.60,177.10 L601.60,154.80 L608.43,154.80 L608.43,187.00 L615.27,187.00 L615.27,217.30 L622.10,217.30 L622.10,219.30 L628.93,219.30 L628.93,240.60 L635.76,240.60 L635.76,252.90 L642.59,252.90 L642.59,255.80 L649.42,255.80 L649.42,259.20 L656.25,259.20 L656.25,259.50 L663.08,259.50 L663.08,261.60 Z" fill="#8c564b"/>
<line x1="620.50" y1="261.60" x2="620.50" y2="265.20" stroke="#000" stroke-width="0.8"/>
<text x="620.50" y="272.90" font-size="7.9" text-anchor="middle" class="s">58</text>
<g clip-path="url(#c02)"><path d="M19.80,200.00 L20.00,395.60 C20.08,395.60 20.25,396.82 20.50,395.60 C20.75,394.38 21.20,392.57 21.50,388.30 C21.80,384.03 22.12,376.88 22.30,370.00 C22.48,363.12 22.45,355.83 22.60,347.00 C22.75,338.17 22.98,325.78 23.20,317.00 C23.42,308.22 23.50,294.30 23.95,294.30 C24.40,294.30 25.41,308.22 25.90,317.00 C26.39,325.78 26.63,338.17 26.90,347.00 C27.17,355.83 27.28,365.00 27.50,370.00 C27.72,375.00 27.97,374.55 28.20,377.00 C28.43,379.45 28.60,382.20 28.90,384.70 C29.20,387.20 29.50,390.23 30.00,392.00 C30.50,393.77 31.07,394.70 31.90,395.30 C32.73,395.90 31.98,395.55 35.00,395.60 C38.02,395.65 44.58,395.68 50.00,395.60 C55.42,395.52 63.62,395.48 67.50,395.10 C71.38,394.72 71.37,394.28 73.30,393.30 C75.23,392.32 77.15,390.75 79.10,389.20 C81.05,387.65 83.15,385.17 85.00,384.00 C86.85,382.83 88.45,382.10 90.20,382.20 C91.95,382.30 93.65,383.13 95.50,384.60 C97.35,386.07 99.17,389.35 101.30,391.00 C103.43,392.65 105.97,393.73 108.30,394.50 C110.63,395.27 113.12,395.42 115.30,395.60 C117.48,395.78 120.38,395.60 121.40,395.60 L121.90,375.20" fill="none" stroke="#1f77b4" stroke-width="1.3" stroke-linejoin="round"/></g>
<line x1="19.42" y1="396.40" x2="19.42" y2="400.00" stroke="#000" stroke-width="0.8"/>
<text x="19.42" y="407.70" font-size="7.9" text-anchor="middle" class="s">0</text>
<line x1="59.60" y1="396.40" x2="59.60" y2="400.00" stroke="#000" stroke-width="0.8"/>
<text x="59.60" y="407.70" font-size="7.9" text-anchor="middle" class="s">100</text>
<line x1="99.78" y1="396.40" x2="99.78" y2="400.00" stroke="#000" stroke-width="0.8"/>
<text x="99.78" y="407.70" font-size="7.9" text-anchor="middle" class="s">200</text>
<g clip-path="url(#c12)"><path d="M155.10,200.00 L155.50,395.40 C155.63,395.42 156.00,396.37 156.30,395.50 C156.60,394.63 156.92,394.35 157.30,390.20 C157.68,386.05 158.32,375.30 158.60,370.60 C158.88,365.90 158.83,369.27 159.00,362.00 C159.17,354.73 159.38,336.50 159.60,327.00 C159.82,317.50 160.05,309.83 160.30,305.00 C160.55,300.17 160.85,298.00 161.10,298.00 C161.35,298.00 161.52,300.17 161.80,305.00 C162.08,309.83 162.48,317.50 162.80,327.00 C163.12,336.50 163.33,354.03 163.70,362.00 C164.07,369.97 164.50,371.10 165.00,374.80 C165.50,378.50 165.92,381.48 166.70,384.20 C167.48,386.92 168.63,389.45 169.70,391.10 C170.77,392.75 171.82,393.42 173.10,394.10 C174.38,394.78 175.42,394.97 177.40,395.20 C179.38,395.43 182.53,395.48 185.00,395.50 C187.47,395.52 189.62,395.60 192.20,395.30 C194.78,395.00 198.12,394.87 200.50,393.70 C202.88,392.53 204.50,390.48 206.50,388.30 C208.50,386.12 210.40,382.38 212.50,380.60 C214.60,378.82 217.10,377.60 219.10,377.60 C221.10,377.60 222.60,378.92 224.50,380.60 C226.40,382.28 228.52,385.72 230.50,387.70 C232.48,389.68 234.02,391.30 236.40,392.50 C238.78,393.70 241.80,394.40 244.80,394.90 C247.80,395.40 252.42,395.40 254.40,395.50 C256.38,395.60 256.32,395.50 256.70,395.50 L257.10,386.90" fill="none" stroke="#ff7f0e" stroke-width="1.3" stroke-linejoin="round"/></g>
<line x1="154.72" y1="396.40" x2="154.72" y2="400.00" stroke="#000" stroke-width="0.8"/>
<text x="154.72" y="407.70" font-size="7.9" text-anchor="middle" class="s">0</text>
<line x1="194.90" y1="396.40" x2="194.90" y2="400.00" stroke="#000" stroke-width="0.8"/>
<text x="194.90" y="407.70" font-size="7.9" text-anchor="middle" class="s">100</text>
<line x1="235.08" y1="396.40" x2="235.08" y2="400.00" stroke="#000" stroke-width="0.8"/>
<text x="235.08" y="407.70" font-size="7.9" text-anchor="middle" class="s">200</text>
<g clip-path="url(#c22)"><polyline points="290.40,200.00 290.60,394.90 291.20,395.50 293.60,395.40 294.40,390.00 295.30,370.60 296.00,357.00 297.20,322.00 298.70,295.10 299.50,302.00 300.30,303.30 302.50,335.00 305.20,356.30 306.50,365.00 308.10,374.80 310.70,395.00 312.60,395.10 336.30,394.10 341.60,392.40 346.80,390.40 353.40,389.10 360.00,387.80 365.30,385.80 370.50,383.60 374.50,385.10 378.40,389.70 382.40,393.70 386.30,395.30 392.20,395.70" fill="none" stroke="#2ca02c" stroke-width="1.3" stroke-linejoin="round"/></g>
<line x1="290.02" y1="396.40" x2="290.02" y2="400.00" stroke="#000" stroke-width="0.8"/>
<text x="290.02" y="407.70" font-size="7.9" text-anchor="middle" class="s">0</text>
<line x1="330.20" y1="396.40" x2="330.20" y2="400.00" stroke="#000" stroke-width="0.8"/>
<text x="330.20" y="407.70" font-size="7.9" text-anchor="middle" class="s">100</text>
<line x1="370.38" y1="396.40" x2="370.38" y2="400.00" stroke="#000" stroke-width="0.8"/>
<text x="370.38" y="407.70" font-size="7.9" text-anchor="middle" class="s">200</text>
<g clip-path="url(#c32)"><path d="M425.60,200.00 L425.70,386.00 C425.82,386.62 426.03,390.40 426.40,389.70 C426.77,389.00 427.33,385.37 427.90,381.80 C428.47,378.23 429.33,371.93 429.80,368.30 C430.27,364.67 430.23,363.60 430.70,360.00 C431.17,356.40 431.98,350.95 432.60,346.70 C433.22,342.45 433.80,337.97 434.40,334.50 C435.00,331.03 435.58,328.35 436.20,325.90 C436.82,323.45 437.18,321.47 438.10,319.80 C439.02,318.13 440.38,316.10 441.70,315.90 C443.02,315.70 444.62,317.00 446.00,318.60 C447.38,320.20 448.32,322.62 450.00,325.50 C451.68,328.38 454.07,332.75 456.10,335.90 C458.13,339.05 460.17,341.80 462.20,344.40 C464.23,347.00 466.27,349.45 468.30,351.50 C470.33,353.55 472.35,355.02 474.40,356.70 C476.45,358.38 478.55,360.08 480.60,361.60 C482.65,363.12 484.87,364.48 486.70,365.80 C488.53,367.12 489.62,367.93 491.60,369.50 C493.58,371.07 496.32,373.42 498.60,375.20 C500.88,376.98 503.07,378.55 505.30,380.20 C507.53,381.85 509.75,383.57 512.00,385.10 C514.25,386.63 516.78,388.02 518.80,389.40 C520.82,390.78 523.22,392.73 524.10,393.40 L527.10,395.60" fill="none" stroke="#9467bd" stroke-width="1.3" stroke-linejoin="round"/></g>
<line x1="425.32" y1="396.40" x2="425.32" y2="400.00" stroke="#000" stroke-width="0.8"/>
<text x="425.32" y="407.70" font-size="7.9" text-anchor="middle" class="s">0</text>
<line x1="465.50" y1="396.40" x2="465.50" y2="400.00" stroke="#000" stroke-width="0.8"/>
<text x="465.50" y="407.70" font-size="7.9" text-anchor="middle" class="s">100</text>
<line x1="505.68" y1="396.40" x2="505.68" y2="400.00" stroke="#000" stroke-width="0.8"/>
<text x="505.68" y="407.70" font-size="7.9" text-anchor="middle" class="s">200</text>
<g clip-path="url(#c42)"><path d="M560.90,200.00 L561.00,392.00 C561.17,392.18 561.43,392.92 562.00,393.10 C562.57,393.28 563.77,394.40 564.40,393.10 C565.03,391.80 565.35,388.83 565.80,385.30 C566.25,381.77 566.70,376.38 567.10,371.90 C567.50,367.42 567.87,362.43 568.20,358.40 C568.53,354.37 568.75,351.20 569.10,347.70 C569.45,344.20 569.97,338.02 570.30,337.40 C570.63,336.78 570.83,342.17 571.10,344.00 C571.37,345.83 571.45,346.43 571.90,348.40 C572.35,350.37 572.92,354.08 573.80,355.80 C574.68,357.52 576.02,358.58 577.20,358.70 C578.38,358.82 579.80,357.73 580.90,356.50 C582.00,355.27 582.83,353.38 583.80,351.30 C584.77,349.22 585.72,346.43 586.70,344.00 C587.68,341.57 588.72,339.38 589.70,336.70 C590.68,334.02 591.63,330.83 592.60,327.90 C593.57,324.97 594.52,321.80 595.50,319.10 C596.48,316.40 597.52,313.67 598.50,311.70 C599.48,309.73 600.55,308.22 601.40,307.30 C602.25,306.38 602.75,306.20 603.60,306.20 C604.45,306.20 605.52,306.38 606.50,307.30 C607.48,308.22 608.40,309.50 609.50,311.70 C610.60,313.90 611.77,317.07 613.10,320.50 C614.43,323.93 616.03,328.63 617.50,332.30 C618.97,335.97 620.65,339.70 621.90,342.50 C623.15,345.30 623.95,346.85 625.00,349.10 C626.05,351.35 626.90,353.30 628.20,356.00 C629.50,358.70 631.25,362.40 632.80,365.30 C634.35,368.20 635.95,370.88 637.50,373.40 C639.05,375.92 640.55,378.27 642.10,380.40 C643.65,382.53 645.25,384.53 646.80,386.20 C648.35,387.87 649.87,389.43 651.40,390.40 C652.93,391.37 654.77,391.53 656.00,392.00 C657.23,392.47 658.02,392.88 658.80,393.20 C659.58,393.52 660.07,393.77 660.70,393.90 C661.33,394.03 662.28,393.98 662.60,394.00 L663.00,321.20" fill="none" stroke="#8c564b" stroke-width="1.3" stroke-linejoin="round"/></g>
<line x1="560.62" y1="396.40" x2="560.62" y2="400.00" stroke="#000" stroke-width="0.8"/>
<text x="560.62" y="407.70" font-size="7.9" text-anchor="middle" class="s">0</text>
<line x1="600.80" y1="396.40" x2="600.80" y2="400.00" stroke="#000" stroke-width="0.8"/>
<text x="600.80" y="407.70" font-size="7.9" text-anchor="middle" class="s">100</text>
<line x1="640.98" y1="396.40" x2="640.98" y2="400.00" stroke="#000" stroke-width="0.8"/>
<text x="640.98" y="407.70" font-size="7.9" text-anchor="middle" class="s">200</text>
<rect x="14.30" y="149.30" width="112.7" height="112.3" fill="none" stroke="#000" stroke-width="0.8"/>
<rect x="149.60" y="149.30" width="112.7" height="112.3" fill="none" stroke="#000" stroke-width="0.8"/>
<rect x="284.90" y="149.30" width="112.7" height="112.3" fill="none" stroke="#000" stroke-width="0.8"/>
<rect x="420.20" y="149.30" width="112.7" height="112.3" fill="none" stroke="#000" stroke-width="0.8"/>
<rect x="555.50" y="149.30" width="112.7" height="112.3" fill="none" stroke="#000" stroke-width="0.8"/>
<rect x="14.30" y="284.10" width="112.7" height="112.3" fill="none" stroke="#000" stroke-width="0.8"/>
<rect x="149.60" y="284.10" width="112.7" height="112.3" fill="none" stroke="#000" stroke-width="0.8"/>
<rect x="284.90" y="284.10" width="112.7" height="112.3" fill="none" stroke="#000" stroke-width="0.8"/>
<rect x="420.20" y="284.10" width="112.7" height="112.3" fill="none" stroke="#000" stroke-width="0.8"/>
<rect x="555.50" y="284.10" width="112.7" height="112.3" fill="none" stroke="#000" stroke-width="0.8"/>
</svg></body></html>
